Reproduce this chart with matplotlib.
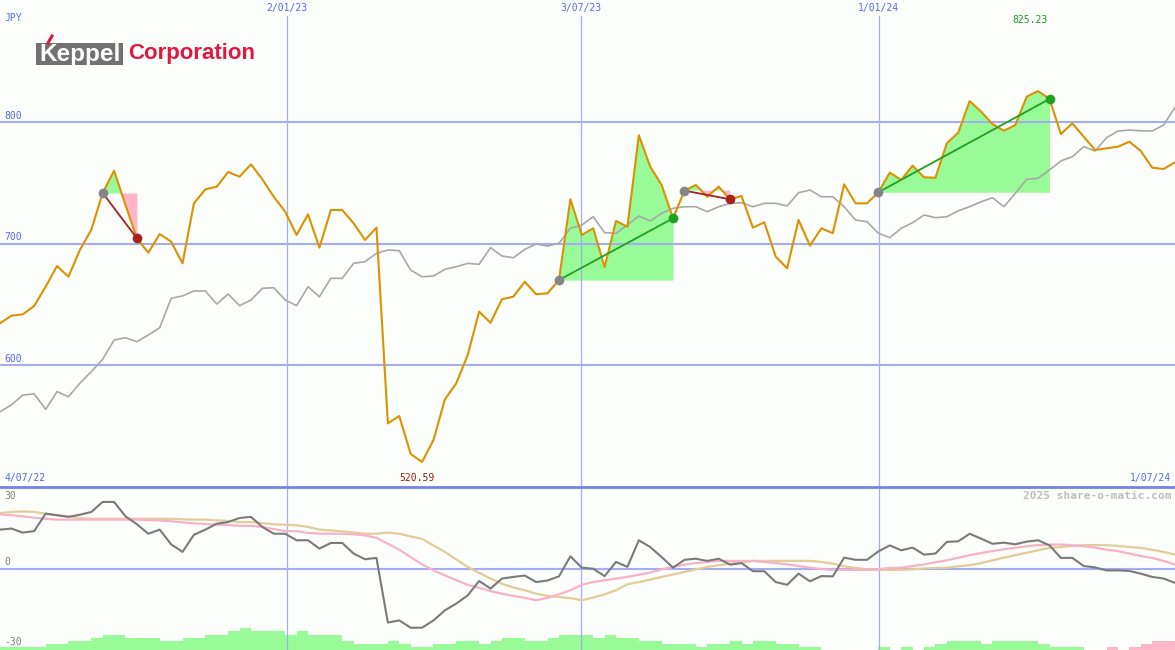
import numpy as np
import matplotlib
matplotlib.use('Agg')
import matplotlib.pyplot as plt
from matplotlib.patches import Rectangle
from matplotlib.lines import Line2D

# Weekly closing price (JPY) and its moving average.
price = [634.5, 640.7, 641.8, 648.7, 664.5, 681.5, 672.7, 694.7, 711.1, 741.5,
         759.8, 731.6, 704.3, 692.4, 707.8, 701.5, 683.7, 733.0, 744.5, 746.7,
         758.7, 754.9, 765.0, 752.7, 738.4, 726.1, 707.0, 724.0, 696.6, 727.5,
         727.5, 716.6, 702.9, 713.0, 552.3, 558.3, 527.1, 520.59, 538.6, 572.0,
         585.2, 608.4, 644.0, 634.9, 654.2, 656.3, 668.6, 658.3, 659.1, 670.0,
         736.3, 707.0, 712.5, 680.5, 718.5, 713.8, 788.9, 763.1, 748.0, 720.7,
         743.4, 748.0, 738.4, 746.7, 736.3, 739.0, 713.0, 717.4, 689.2, 679.6,
         719.3, 698.2, 712.5, 708.4, 748.6, 733.0, 733.0, 742.1, 758.2, 752.2,
         763.9, 754.4, 754.0, 782.3, 791.0, 817.0, 808.3, 798.2, 792.6, 797.3,
         820.6, 825.23, 818.7, 789.9, 798.7, 787.7, 776.8, 778.2, 779.5, 783.6,
         776.0, 762.3, 761.2, 766.7]

avg = [561.8, 567.4, 575.6, 576.4, 563.8, 578.3, 574.2, 585.2, 594.7, 604.9,
       620.7, 622.6, 619.3, 624.8, 630.8, 655.0, 656.9, 661.0, 661.0, 650.3,
       658.5, 648.9, 653.6, 663.2, 663.7, 653.6, 648.9, 664.5, 656.3, 671.4,
       671.4, 683.7, 685.1, 691.9, 694.7, 694.1, 678.2, 672.7, 673.3, 678.8,
       680.9, 683.7, 682.9, 696.6, 689.7, 688.3, 695.2, 699.6, 697.9, 700.2,
       712.5, 715.2, 722.0, 708.9, 708.4, 715.2, 722.6, 718.5, 724.8, 728.9,
       730.2, 730.2, 726.1, 730.2, 733.0, 733.5, 730.2, 733.0, 733.0, 730.8,
       741.7, 743.9, 738.4, 738.4, 730.2, 719.3, 717.9, 708.4, 704.8, 712.5,
       717.1, 723.4, 721.2, 722.0, 726.9, 730.2, 734.3, 737.6, 730.2, 741.2,
       752.7, 753.6, 760.4, 767.8, 771.3, 779.5, 776.0, 786.9, 792.4, 793.2,
       792.6, 792.4, 797.3, 811.9]

# Lower panel: momentum and its fast / slow averages.
mom = [14.3, 14.7, 13.2, 13.8, 20.2, 19.6, 19.0, 19.8, 20.8, 24.5,
       24.5, 19.2, 16.3, 12.8, 14.3, 8.9, 6.1, 12.4, 14.3, 16.5,
       17.1, 18.6, 19.0, 15.3, 12.8, 12.8, 10.4, 10.4, 7.3, 9.4,
       9.4, 5.5, 3.4, 3.9, -19.9, -19.1, -21.8, -21.8, -19.1, -15.4,
       -12.9, -9.9, -4.6, -7.4, -3.7, -3.1, -2.6, -5.0, -4.4, -2.9,
       4.5, 0.3, -0.1, -2.8, 2.4, 0.6, 10.4, 7.9, 4.2, 0.3,
       3.2, 3.6, 2.8, 3.6, 1.4, 2.0, -1.0, -1.0, -5.0, -6.0,
       -1.9, -4.7, -2.8, -2.9, 4.0, 3.2, 3.2, 6.3, 8.5, 6.7,
       7.7, 5.1, 5.5, 9.8, 10.0, 12.8, 11.0, 9.1, 9.5, 8.9,
       9.9, 10.4, 8.5, 3.9, 3.9, 0.9, 0.4, -0.7, -0.7, -0.9,
       -1.9, -3.1, -3.7, -5.3]

mom_fast = [19.9, 19.6, 19.2, 18.7, 18.3, 18.0, 18.0, 18.0, 18.0, 18.0,
            18.0, 18.0, 18.0, 17.8, 17.7, 17.4, 17.0, 16.6, 16.4, 16.1,
            16.0, 15.7, 15.7, 15.3, 14.5, 13.8, 13.7, 13.1, 12.8, 12.8,
            12.8, 12.6, 12.2, 11.3, 9.1, 6.9, 4.2, 1.5, -0.7, -2.5,
            -4.3, -6.0, -7.1, -8.3, -9.3, -10.1, -10.8, -11.7, -10.8, -9.5,
            -8.0, -6.0, -5.0, -4.3, -3.7, -3.1, -2.3, -1.5, -0.3, 0.6,
            1.4, 2.0, 2.4, 2.8, 2.8, 2.8, 2.8, 2.4, 2.0, 1.5,
            0.9, 0.3, -0.2, -0.5, -0.5, -0.5, -0.5, -0.3, 0.2, 0.3,
            0.9, 1.5, 2.3, 3.0, 4.0, 4.9, 5.7, 6.4, 7.1, 7.6,
            8.2, 8.6, 8.8, 8.8, 8.6, 8.2, 7.7, 6.9, 6.4, 5.5,
            4.6, 3.9, 2.8, 1.4]

mom_slow = [20.4, 20.8, 21.0, 20.8, 20.2, 19.6, 19.2, 18.6, 18.3, 18.3,
            18.3, 18.3, 18.3, 18.3, 18.3, 18.3, 18.1, 18.0, 18.0, 17.7,
            17.5, 17.1, 17.1, 16.7, 16.3, 16.1, 15.9, 15.3, 14.3, 14.0,
            13.7, 13.2, 12.8, 12.8, 13.2, 12.8, 11.8, 10.9, 8.5, 6.1,
            3.3, 0.6, -1.6, -3.7, -5.6, -7.0, -8.0, -9.3, -10.1, -10.5,
            -10.9, -11.7, -10.7, -9.5, -8.0, -5.8, -5.0, -4.1, -3.1, -2.2,
            -1.3, -0.3, 0.6, 1.2, 1.8, 2.1, 2.8, 2.8, 2.8, 2.8,
            2.8, 2.8, 2.4, 1.8, 0.8, 0.2, -0.3, -0.5, -0.5, -0.5,
            -0.3, 0.0, 0.2, 0.3, 0.8, 1.2, 2.0, 3.0, 4.0, 4.9,
            5.8, 6.7, 7.6, 7.9, 8.3, 8.6, 8.6, 8.6, 8.3, 7.9,
            7.6, 6.9, 6.1, 5.1]

# Signal histogram along the bottom (positive = green, negative = pink).
hist = [1.1, 1.1, 1.1, 1.1, 2.3, 2.3, 3.3, 3.3, 4.5, 5.6,
        5.6, 4.5, 4.5, 4.5, 3.3, 3.3, 4.5, 4.5, 5.6, 5.6,
        7.0, 8.1, 7.0, 7.0, 7.0, 5.6, 7.0, 5.6, 5.6, 5.6,
        3.3, 2.3, 2.3, 2.3, 3.3, 2.3, 1.1, 1.1, 2.3, 2.3,
        3.3, 3.3, 2.3, 3.3, 4.5, 4.5, 3.3, 3.3, 4.5, 5.6,
        5.6, 5.6, 4.5, 5.6, 4.5, 4.5, 3.3, 3.3, 2.3, 2.3,
        2.3, 1.1, 2.3, 2.3, 3.3, 2.3, 3.3, 3.3, 2.3, 2.3,
        1.1, 1.1, 0, 0, 0, 0, 0, 1.1, 0, 1.1,
        0, 1.1, 2.3, 3.3, 3.3, 3.3, 2.3, 3.3, 3.3, 3.3,
        3.3, 2.3, 1.1, 1.1, 1.1, 0, 0, -1.1, 0, -1.1,
        -2.3, -3.3, -3.3, -3.3]

# Trades as (entry week, exit week).
trades = [(9, 12), (49, 59), (60, 64), (77, 92)]

# Date gridlines (in weeks from the first point) and their labels.
date_ticks = [25.15, 50.92, 77.04]
date_labels = ['2/01/23', '3/07/23', '1/01/24']
first_label = '4/07/22'
last_label = '1/07/24'
price_levels = [600, 700, 800]

BG = '#fbfefb'
GRID = '#a4acf2'
EDGE = '#7482ee'
BLUE = '#5a66f0'
MONO = 'DejaVu Sans Mono'


def main():
    x = np.arange(len(price))
    p = np.array(price)

    fig = plt.figure(figsize=(11.75, 6.5), dpi=100, facecolor=BG)
    top_h = 487.0 / 650.0
    ax = fig.add_axes([0, 1 - top_h, 1, top_h])
    bx = fig.add_axes([0, 0, 1, 1 - top_h])
    for a in (ax, bx):
        a.set_facecolor(BG)
        a.set_xlim(0, len(price) - 1)
        a.axis('off')
    ax.set_ylim(500, 900)
    bx.set_ylim(-30, 30)

    # Grid.
    for lvl in price_levels:
        ax.axhline(lvl, color=GRID, lw=1.5, zorder=1.5)
        ax.text(0.004, lvl + 5, str(lvl), transform=ax.get_yaxis_transform(),
                color=BLUE, fontsize=7, family=MONO, va='center', ha='left')
    for pos, lab in zip(date_ticks, date_labels):
        ax.axvline(pos, ymax=1 - 16 / 487.0, color=GRID, lw=0.9, zorder=1.5)
        bx.axvline(pos, color=GRID, lw=0.9, zorder=1.5)
        ax.text(pos, 1 - 8 / 487.0, lab, transform=ax.get_xaxis_transform(),
                color=BLUE, fontsize=7, family=MONO, ha='center', va='center')
    ax.text(0.004, 1 - 18 / 487.0, 'JPY', transform=ax.transAxes, color=BLUE,
            fontsize=7, family=MONO, va='center', ha='left')
    ax.text(0.004, 9 / 487.0, first_label, transform=ax.transAxes, color=BLUE,
            fontsize=7, family=MONO, va='center', ha='left')
    ax.text(0.997, 9 / 487.0, last_label, transform=ax.transAxes, color=BLUE,
            fontsize=7, family=MONO, va='center', ha='right')

    # Trade fills, lines and markers.
    for ent, ext in trades:
        seg = slice(ent, ext + 1)
        lvl = price[ent]
        ax.fill_between(x[seg], p[seg], lvl, where=p[seg] >= lvl, interpolate=True,
                        color='#98fb98', lw=0, zorder=1)
        ax.fill_between(x[seg], p[seg], lvl, where=p[seg] < lvl, interpolate=True,
                        color='#ffb6c8', lw=0, zorder=1)
        win = price[ext] > price[ent]
        col = '#22a022' if win else '#a82020'
        ax.plot([ent, ext], [price[ent], price[ext]], color=col, lw=1.3, zorder=4)
        ax.plot(ent, price[ent], 'o', color='#858585', ms=7, mew=0, zorder=5)
        ax.plot(ext, price[ext], 'o', color=col, ms=7, mew=0, zorder=5)

    ax.plot(x, avg, color='#a8a8a8', lw=1.2, zorder=2)
    ax.plot(x, price, color='#dc9100', lw=1.5, zorder=3)

    # Max / min labels.
    i_max = int(np.argmax(p))
    i_min = int(np.argmin(p))
    ax.annotate('%.2f' % p[i_max], xy=(i_max, 1 - 20 / 487.0),
                xycoords=ax.get_xaxis_transform(), xytext=(-6, 0), textcoords='offset points',
                color='#229922', fontsize=7, family=MONO, ha='center', va='center')
    ax.annotate('%.2f' % p[i_min], xy=(i_min, 9 / 487.0),
                xycoords=ax.get_xaxis_transform(), xytext=(-4, 0), textcoords='offset points',
                color='#a01818', fontsize=7, family=MONO, ha='center', va='center')

    # Lower panel.
    bx.axhline(0, color=GRID, lw=1.5, zorder=1.5)
    bx.axhline(30, color=EDGE, lw=2.0, zorder=6, clip_on=False)
    h = np.array(hist)
    cols = ['#98fb98' if v >= 0 else '#ffb6c8' for v in h]
    bx.bar(x, np.abs(h), width=1.0, align='edge', bottom=-30, color=cols, lw=0, zorder=1)
    bx.plot(x, mom_slow, color='#e2cc9c', lw=1.6, zorder=2)
    bx.plot(x, mom_fast, color='#f8b2c8', lw=1.6, zorder=2)
    bx.plot(x, mom, color='#7a7a7a', lw=1.5, zorder=3)
    for txt, fy in (('30', 1 - 9 / 163.0), ('0', 1 - 75 / 163.0), ('-30', 8 / 163.0)):
        bx.text(0.004, fy, txt, transform=bx.transAxes, color='#808080',
                fontsize=7, family=MONO, va='center', ha='left')
    bx.text(0.997, 1 - 9 / 163.0, '2025 share-o-matic.com', transform=bx.transAxes,
            color='#bdbdbd', fontsize=8, family=MONO, fontweight='bold', va='center', ha='right')

    # Company logo.
    W, H = 1175.0, 650.0
    fig.add_artist(Rectangle((36 / W, 1 - 65 / H), 87 / W, 22 / H, transform=fig.transFigure,
                             facecolor='#717171', edgecolor='none'))
    fig.text(39 / W, 1 - 54 / H, 'Keppel', color='white', fontsize=17.5, fontweight='bold',
             family='Liberation Sans', va='center', ha='left')
    fig.text(128 / W, 1 - 53 / H, 'Corporation', color='#e3173e', fontsize=16,
             fontweight='bold', family='Liberation Sans', va='center', ha='left')
    fig.add_artist(Line2D([48 / W, 52 / W], [1 - 43 / H, 1 - 36 / H], transform=fig.transFigure,
                          color='#e3173e', lw=2.2))

    fig.savefig('out.png', dpi=100, facecolor=BG)


if __name__ == '__main__':
    main()
